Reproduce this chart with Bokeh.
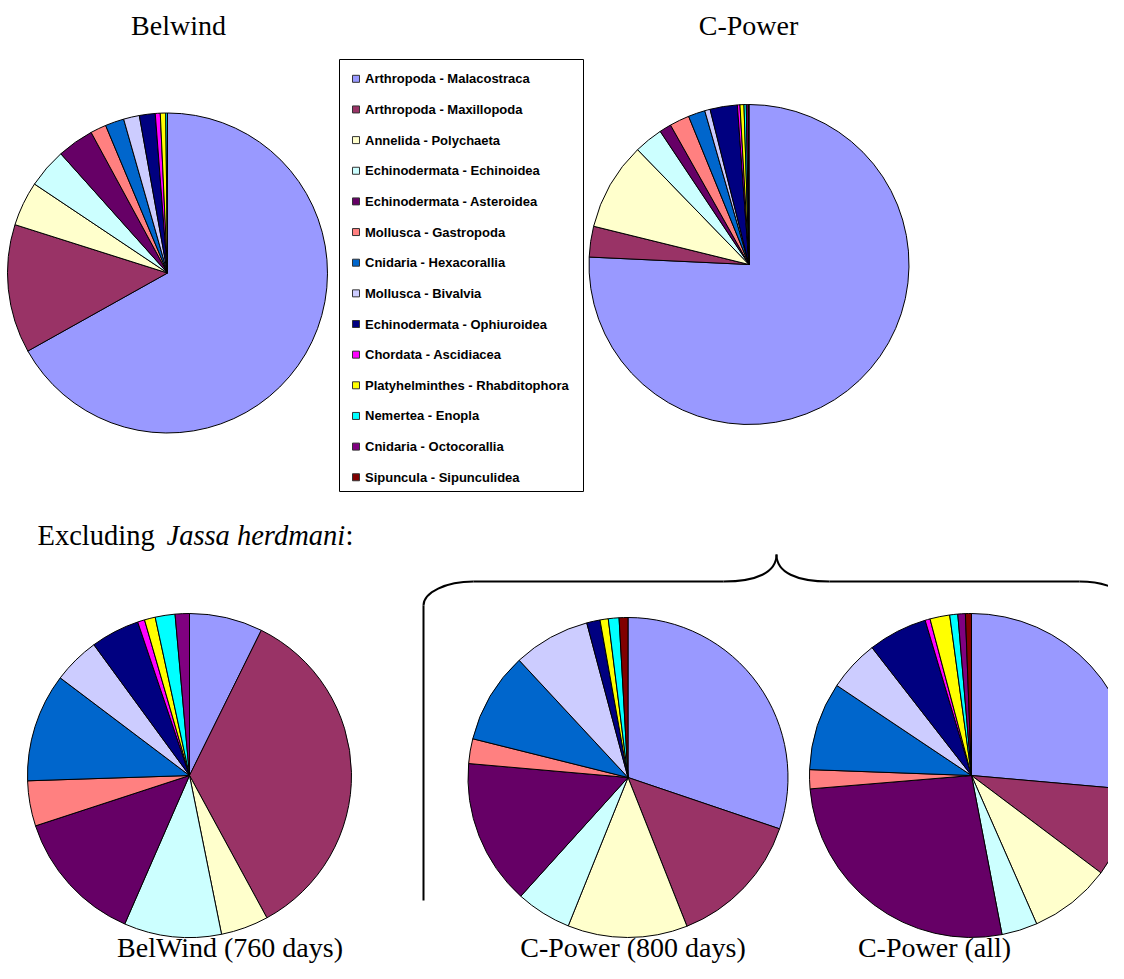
import numpy as np
from bokeh.plotting import figure
from bokeh.models import Range1d, ColumnDataSource
from bokeh.core.properties import value
from bokeh.embed import file_html
from bokeh.resources import INLINE

# ---------------- data ----------------
categories = [
    "Arthropoda - Malacostraca",
    "Arthropoda - Maxillopoda",
    "Annelida - Polychaeta",
    "Echinodermata - Echinoidea",
    "Echinodermata - Asteroidea",
    "Mollusca - Gastropoda",
    "Cnidaria - Hexacorallia",
    "Mollusca - Bivalvia",
    "Echinodermata - Ophiuroidea",
    "Chordata - Ascidiacea",
    "Platyhelminthes - Rhabditophora",
    "Nemertea - Enopla",
    "Cnidaria - Octocorallia",
    "Sipuncula - Sipunculidea",
]
colors = ["#9999FF", "#993366", "#FFFFCC", "#CCFFFF", "#660066", "#FF8080",
          "#0066CC", "#CCCCFF", "#000080", "#FF00FF", "#FFFF00", "#00FFFF",
          "#800080", "#800000"]

belwind        = [66.9, 13.0, 4.5, 4.0, 3.7, 1.6, 1.9, 1.6, 1.6, 0.5, 0.55, 0.17, 0, 0]
cpower         = [75.75, 3.1, 8.9, 2.9, 1.2, 2.0, 1.7, 0.55, 2.75, 0.26, 0.4, 0.23, 0.2, 0.07]
belwind_760    = [7.3, 34.7, 4.75, 9.7, 13.4, 4.5, 10.8, 4.65, 4.86, 0.7, 1.08, 1.97, 1.42, 0]
cpower_800     = [30.2, 13.8, 12.1, 5.6, 14.7, 2.5, 9.2, 7.76, 1.35, 0, 0.83, 1.08, 0, 0.89]
cpower_all     = [26.4, 8.86, 8.15, 3.57, 26.7, 1.9, 8.8, 5.1, 5.9, 0.5, 1.97, 0.8, 0.75, 0.6]

top_titles = ["Belwind", "C-Power"]
bottom_titles = ["BelWind (760 days)", "C-Power (800 days)", "C-Power (all)"]

# ---------------- figure ----------------
W, H = 1108, 963


def Y(py):
    # pixel row (from top) -> data y (upwards)
    return H - py


p = figure(width=W, height=H, x_range=Range1d(0, W), y_range=Range1d(0, H),
           output_backend="svg", toolbar_location=None, min_border=0,
           x_axis_location=None, y_axis_location=None)
p.grid.visible = False
p.outline_line_color = None
p.background_fill_color = "white"
p.border_fill_color = "white"


def pie(values, cx, cy, r):
    vals = np.array(values, dtype=float)
    frac = vals / vals.sum()
    cum = np.concatenate([[0.0], np.cumsum(frac)])
    start = np.pi / 2 - 2 * np.pi * cum[:-1]
    end = np.pi / 2 - 2 * np.pi * cum[1:]
    mask = vals > 0
    src = ColumnDataSource(dict(start=start[mask], end=end[mask],
                                color=list(np.array(colors)[mask])))
    p.wedge(x=cx, y=Y(cy), radius=r, start_angle="start", end_angle="end",
            direction="clock", fill_color="color", line_color="black",
            line_width=1, source=src)


pie(belwind, 167, 272.5, 160)
pie(cpower, 748.5, 264, 160)
pie(belwind_760, 189, 775, 162)
pie(cpower_800, 627.5, 777, 160)
pie(cpower_all, 971, 775, 162)

# ---------------- texts ----------------
serif = value("Liberation Serif")
p.text(x=[178, 748], y=[Y(25), Y(25)], text=top_titles, text_font=serif,
       text_font_size="28px", text_align="center", text_baseline="middle",
       text_color="black")
p.text(x=[229.5, 632.5, 934], y=[Y(947)] * 3, text=bottom_titles, text_font=serif,
       text_font_size="28px", text_align="center", text_baseline="middle",
       text_color="black")
p.text(x=[37], y=[Y(535)], text=["Excluding"], text_font=serif,
       text_font_size="28.5px", text_align="left", text_baseline="middle",
       text_color="black")
p.text(x=[166], y=[Y(535)], text=["Jassa herdmani"], text_font=serif,
       text_font_size="28.5px", text_font_style="italic", text_align="left",
       text_baseline="middle", text_color="black")
p.text(x=[345], y=[Y(535)], text=[":"], text_font=serif,
       text_font_size="28.5px", text_align="left", text_baseline="middle",
       text_color="black")

# ---------------- legend ----------------
p.quad(left=339, right=583, top=Y(59), bottom=Y(491), fill_color="white",
       line_color="black", line_width=1)
rows_y = [Y(78.3 + i * 30.65) for i in range(len(categories))]
p.rect(x=[355.5] * len(categories), y=rows_y, width=7, height=7,
       fill_color=colors, line_color="#333333", line_width=1)
p.text(x=[364.5] * len(categories), y=rows_y, text=categories,
       text_font=value("Liberation Sans"), text_font_style="bold",
       text_font_size="13px", text_baseline="middle", text_align="left",
       text_color="black")

# ---------------- brace ----------------
bk = dict(line_color="black", line_width=2)
# straight parts
p.segment(x0=[423, 473, 829, 1129], y0=[Y(900), Y(581), Y(581), Y(605)],
          x1=[423, 723, 1079, 1129], y1=[Y(605), Y(581), Y(581), Y(900)], **bk)
# curved parts
p.bezier(x0=[423, 723, 776, 1079],
         y0=[Y(605), Y(581), Y(554), Y(581)],
         x1=[473, 776, 829, 1129],
         y1=[Y(581), Y(554), Y(581), Y(605)],
         cx0=[423, 756, 776, 1106.6],
         cy0=[Y(591.8), Y(581), Y(572), Y(581)],
         cx1=[445.4, 776, 796, 1129],
         cy1=[Y(581), Y(572), Y(581), Y(591.8)], **bk)

open("out.html", "w").write(file_html(p, INLINE))
